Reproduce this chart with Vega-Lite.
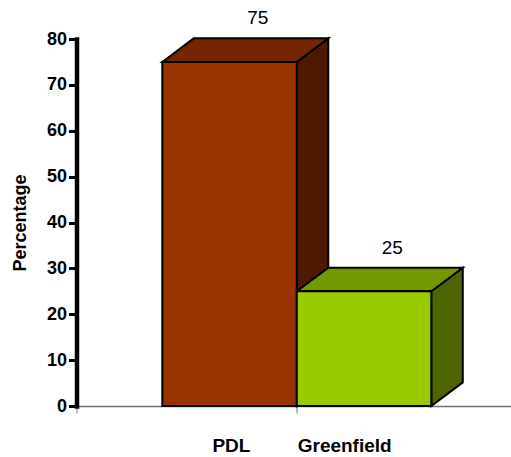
{
  "$schema": "https://vega.github.io/schema/vega-lite/v6.json",
  "width": 440,
  "height": 367,
  "autosize": {"type": "none"},
  "padding": {"left": 76.5, "top": 39, "right": 0, "bottom": 51},
  "background": "white",
  "config": {
    "view": {"stroke": null},
    "font": "Liberation Sans",
    "axisY": {
      "domainWidth": 4.5, "domainColor": "black", "domainCap": "square",
      "tickWidth": 3, "tickSize": 8, "tickColor": "black", "tickCount": 8,
      "labelFontSize": 18, "labelFontWeight": "bold", "labelColor": "black", "labelPadding": 2,
      "labelFont": "Liberation Sans",
      "titleFontSize": 18, "titleFontWeight": "bold", "titleColor": "black", "titleFont": "Liberation Sans",
      "titleX": -51.5, "titleY": 183.5, "titleBaseline": "alphabetic", "titleAlign": "center", "titleAngle": -90,
      "grid": false
    },
    "axisX": {
      "domainColor": "#707070", "domainWidth": 1.5, "tickColor": "#707070", "tickSize": 7, "tickWidth": 1,
      "labels": false, "grid": false
    }
  },
  "data": {"values": [{"category": "PDL", "value": 75}, {"category": "Greenfield", "value": 25}]},
  "transform": [
    {"window": [{"op": "row_number", "as": "rn"}]},
    {"calculate": "datum.rn - 1 + 0.638", "as": "x0"},
    {"calculate": "datum.x0 + 1", "as": "x1"}
  ],
  "resolve": {"scale": {"fill": "independent"}},
  "layer": [
    {
      "transform": [
        {"calculate": "[0,1]", "as": "k"},
        {"flatten": ["k"]},
        {"calculate": "datum.x1 + 0.234*datum.k", "as": "xs"},
        {"calculate": "datum.value + 5.14*datum.k", "as": "ys"},
        {"calculate": "5.14*datum.k", "as": "ys2"}
      ],
      "mark": {"type": "area", "stroke": "black", "strokeWidth": 2, "strokeJoin": "miter", "fillOpacity": 1, "interpolate": "linear"},
      "encoding": {
        "x": {"field": "xs", "type": "quantitative", "scale": {"domain": [0, 3.2714], "nice": false, "zero": false}, "title": null, "axis": {"values": [0, 1.6357]}},
        "y": {"field": "ys", "type": "quantitative", "scale": {"domain": [0, 80], "nice": false}, "stack": null, "title": "Percentage"},
        "y2": {"field": "ys2"},
        "detail": {"field": "category"},
        "fill": {"field": "category", "type": "nominal", "scale": {"domain": ["PDL", "Greenfield"], "range": ["#4d1a00", "#4d6600"]}, "legend": null}
      }
    },
    {
      "transform": [
        {"calculate": "[0,1,2,3]", "as": "k"},
        {"flatten": ["k"]},
        {"calculate": "datum.x0 + [0, 0.234, 1, 1.234][datum.k]", "as": "xs"},
        {"calculate": "datum.value + [0, 5.14, 5.14, 5.14][datum.k]", "as": "ys"},
        {"calculate": "datum.value + [0, 0, 0, 5.14][datum.k]", "as": "ys2"}
      ],
      "mark": {"type": "area", "stroke": "black", "strokeWidth": 2, "strokeJoin": "miter", "fillOpacity": 1, "interpolate": "linear"},
      "encoding": {
        "x": {"field": "xs", "type": "quantitative", "title": null},
        "y": {"field": "ys", "type": "quantitative", "stack": null, "title": "Percentage"},
        "y2": {"field": "ys2"},
        "detail": {"field": "category"},
        "fill": {"field": "category", "type": "nominal", "scale": {"domain": ["PDL", "Greenfield"], "range": ["#732600", "#739900"]}, "legend": null}
      }
    },
    {
      "mark": {"type": "rect", "stroke": "black", "strokeWidth": 2, "strokeJoin": "miter"},
      "encoding": {
        "x": {"field": "x0", "type": "quantitative", "title": null},
        "x2": {"field": "x1"},
        "y": {"field": "value", "type": "quantitative", "title": "Percentage"},
        "y2": {"datum": 0},
        "fill": {"field": "category", "type": "nominal", "scale": {"domain": ["PDL", "Greenfield"], "range": ["#993300", "#99cc00"]}, "legend": null}
      }
    },
    {
      "transform": [
        {"calculate": "datum.x0 + 0.71", "as": "tx"},
        {"calculate": "datum.value + 5.14", "as": "ty"}
      ],
      "mark": {"type": "text", "fontSize": 19, "font": "Liberation Sans", "color": "black", "baseline": "alphabetic", "align": "center", "dy": -14},
      "encoding": {
        "x": {"field": "tx", "type": "quantitative", "title": null},
        "y": {"field": "ty", "type": "quantitative", "title": "Percentage"},
        "text": {"field": "value", "type": "quantitative"}
      }
    },
    {
      "transform": [
        {"calculate": "datum.x0 + 0.514 - 0.158*(datum.rn - 1)", "as": "lx"}
      ],
      "mark": {"type": "text", "fontSize": 19, "fontWeight": "bold", "font": "Liberation Sans", "color": "black", "baseline": "alphabetic", "align": "center", "dy": 46},
      "encoding": {
        "x": {"field": "lx", "type": "quantitative", "title": null},
        "y": {"datum": 0, "type": "quantitative"},
        "text": {"field": "category", "type": "nominal"}
      }
    }
  ]
}
